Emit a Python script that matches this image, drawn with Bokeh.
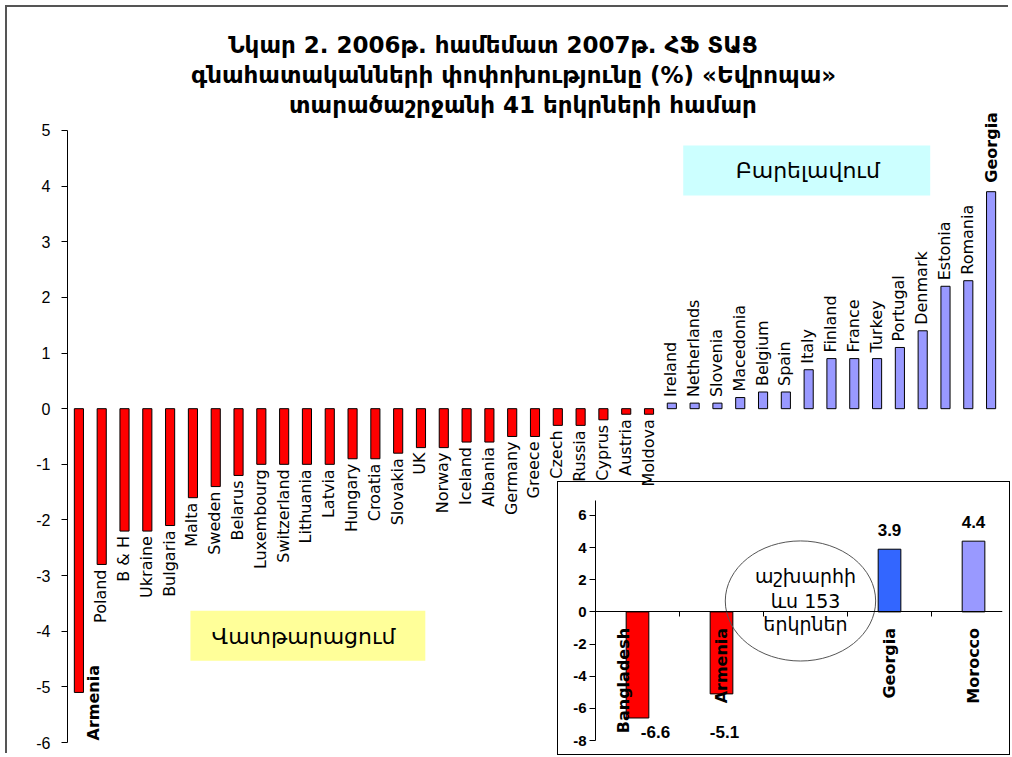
import math
from bokeh.plotting import figure
from bokeh.models import (FactorRange, Range1d, ColumnDataSource, LabelSet, Label,
                          BoxAnnotation, FixedTicker, LinearAxis)
from bokeh.layouts import column
from bokeh.embed import file_html
from bokeh.resources import INLINE
from bokeh.core.properties import value

# ---------------- data ----------------
title_lines = [
    "Նկար 2. 2006թ. համեմատ 2007թ. ՀՖ ՏԱՑ",
    "գնահատականների փոփոխությունը (%) «Եվրոպա»",
    "տարածաշրջանի 41 երկրների համար",
]
countries = ["Armenia", "Poland", "B & H", "Ukraine", "Bulgaria", "Malta", "Sweden",
             "Belarus", "Luxembourg", "Switzerland", "Lithuania", "Latvia", "Hungary",
             "Croatia", "Slovakia", "UK", "Norway", "Iceland", "Albania", "Germany",
             "Greece", "Czech", "Russia", "Cyprus", "Austria", "Moldova", "Ireland",
             "Netherlands", "Slovenia", "Macedonia", "Belgium", "Spain", "Italy",
             "Finland", "France", "Turkey", "Portugal", "Denmark", "Estonia",
             "Romania", "Georgia"]
changes = [-5.1, -2.8, -2.2, -2.2, -2.1, -1.6, -1.4, -1.2, -1.0, -1.0, -1.0, -1.0,
           -0.9, -0.9, -0.8, -0.7, -0.7, -0.6, -0.6, -0.5, -0.5, -0.3, -0.3, -0.2,
           -0.1, -0.1, 0.1, 0.1, 0.1, 0.2, 0.3, 0.3, 0.7, 0.9, 0.9, 0.9, 1.1, 1.4,
           2.2, 2.3, 3.9]
highlight = ["Armenia", "Georgia"]
y_ticks = [-6, -5, -4, -3, -2, -1, 0, 1, 2, 3, 4, 5]
worse_text = "Վատթարացում"
better_text = "Բարելավում"

inset_countries = ["Bangladesh", "Armenia", "Georgia", "Morocco"]
inset_values = [-6.6, -5.1, 3.9, 4.4]
inset_ticks = [-8, -6, -4, -2, 0, 2, 4, 6]
ellipse_lines = ["աշխարհի", "ևս 153", "երկրներ"]

# ---------------- styles ----------------
RED = "#FF0000"
BLUE = "#9999FF"
LBL_FONT = "DejaVu Sans"
NUM_FONT = "Liberation Sans"

# ---------------- main chart ----------------
# the plot area reaches up over the heading; the value axis itself stops at 5
p = figure(width=981, height=748, title=None,
           x_range=FactorRange(*countries, range_padding=0),
           y_range=Range1d(min(y_ticks), 6.977),
           x_axis_location=None, y_axis_location="left",
           min_border_left=38, min_border_right=8, min_border_bottom=13, min_border_top=13,
           output_backend="svg", toolbar_location=None,
           margin=(0, 0, 0, 22))
p.outline_line_color = None
p.grid.visible = False
p.background_fill_color = "white"
p.border_fill_color = "white"

# three-line heading
title_pos = [(18.66, 6.53), (19.56, 5.99), (19.97, 5.45)]
for txt, (tx, ty) in zip(title_lines, title_pos):
    p.add_layout(Label(x=tx, y=ty, text=txt, text_align="center", text_baseline="middle",
                       text_font=LBL_FONT, text_font_size="23px", text_font_style="bold",
                       text_color="black"))

ya = p.yaxis[0]
ya.ticker = FixedTicker(ticks=y_ticks)
ya.bounds = (min(y_ticks), max(y_ticks))
ya.major_label_overrides = {t: str(t) for t in y_ticks}
ya.major_label_text_font = NUM_FONT
ya.major_label_text_font_size = "16px"
ya.major_label_text_color = "black"
ya.major_label_standoff = 11
ya.major_tick_in = 0
ya.major_tick_out = 6
ya.minor_tick_line_color = None
ya.axis_line_color = "black"
ya.major_tick_line_color = "black"

colors = [RED if v < 0 else BLUE for v in changes]
src = ColumnDataSource(dict(country=countries, value=changes, color=colors))
p.vbar(x="country", top="value", bottom=0, width=0.4, fill_color="color",
       line_color="black", line_width=1, source=src)

ymin = p.y_range.start
lab_c, lab_y, lab_align, lab_yoff = [], [], [], []
for c, v in zip(countries, changes):
    if c in highlight:
        continue
    lab_c.append(c)
    if v < 0:
        lab_y.append(v); lab_align.append("right"); lab_yoff.append(-5)
    else:
        lab_y.append(v); lab_align.append("left"); lab_yoff.append(6)
lsrc = ColumnDataSource(dict(country=lab_c, y=lab_y, align=lab_align, yo=lab_yoff))
p.add_layout(LabelSet(x="country", y="y", text="country", source=lsrc,
                      angle=math.pi / 2, text_align="align", text_baseline="middle",
                      x_offset=-1, y_offset="yo",
                      text_font=value(LBL_FONT), text_font_size=value("16px"),
                      text_color="black"))

# highlighted countries: bold labels (Armenia beside its bar, Georgia above)
for c in highlight:
    i = countries.index(c)
    v = changes[i]
    xc = i + 0.5  # synthetic coordinate of the factor's centre
    if v < 0:
        lbl = Label(x=xc, y=ymin, text=c, angle=math.pi / 2, text_align="left",
                    text_baseline="middle", x_offset=15, y_offset=2)
    else:
        lbl = Label(x=xc, y=v, text=c, angle=math.pi / 2, text_align="left",
                    text_baseline="middle", x_offset=0, y_offset=9)
    lbl.text_font = LBL_FONT
    lbl.text_font_size = "16px"
    lbl.text_font_style = "bold"
    lbl.text_color = "black"
    p.add_layout(lbl)

# annotation boxes
p.add_layout(BoxAnnotation(left=27.0, right=37.83, top=4.73, bottom=3.83,
                           fill_color="#CCFFFF", fill_alpha=1, line_color=None,
                           level="underlay"))
p.add_layout(Label(x=32.46, y=4.28, text=better_text, text_align="center",
                   text_baseline="middle", text_font=LBL_FONT, text_font_size="22px",
                   text_color="black"))
p.add_layout(BoxAnnotation(left=5.39, right=15.69, top=-3.63, bottom=-4.53,
                           fill_color="#FFFF99", fill_alpha=1, line_color=None,
                           level="underlay"))
p.add_layout(Label(x=10.35, y=-4.1, text=worse_text, text_align="center",
                   text_baseline="middle", text_font=LBL_FONT, text_font_size="22px",
                   text_color="black"))

# ---------------- inset chart ----------------
n_slots = len(inset_countries) + 1
gap_after = 2
pos = [i + 0.5 + (1 if i >= gap_after else 0) for i in range(len(inset_countries))]
gap_center = gap_after + 0.5

ins = figure(width=453, height=274, title=None,
             x_range=Range1d(0, 4.845), y_range=Range1d(-8, 6.93),
             x_axis_location=None, y_axis_location="left",
             min_border_left=38, min_border_right=8, min_border_top=19, min_border_bottom=15,
             output_backend="svg", toolbar_location=None,
             margin=(-274, 0, 0, 550),
             styles={"outline": "1px solid black", "outline-offset": "-1px"})
ins.outline_line_color = None
ins.grid.visible = False
ins.background_fill_color = "white"
ins.border_fill_color = "white"
ins.border_fill_alpha = 0

iy = ins.yaxis[0]
iy.ticker = FixedTicker(ticks=inset_ticks)
iy.major_label_overrides = {t: str(t) for t in inset_ticks}
iy.major_label_text_font = NUM_FONT
iy.major_label_text_font_size = "15px"
iy.major_label_text_font_style = "bold"
iy.major_label_text_color = "black"
iy.major_label_standoff = 3
iy.major_tick_in = 0
iy.major_tick_out = 6
iy.minor_tick_line_color = None
iy.axis_line_color = "black"
iy.major_tick_line_color = "black"

bticks = list(range(1, n_slots))
xa = LinearAxis(fixed_location=0, ticker=FixedTicker(ticks=bticks),
                major_label_overrides={t: "" for t in bticks},
                major_label_text_font_size="1px", major_label_standoff=0,
                major_tick_in=0, major_tick_out=5, minor_tick_line_color=None,
                axis_line_color="black", major_tick_line_color="black")
ins.add_layout(xa, "below")

inset_colors = {"Bangladesh": RED, "Armenia": RED, "Georgia": "#3366FF", "Morocco": BLUE}
isrc = ColumnDataSource(dict(x=pos, value=inset_values, name=inset_countries,
                             color=[inset_colors[c] for c in inset_countries]))
ins.vbar(x="x", top="value", bottom=0, width=0.27, fill_color="color",
         line_color="black", line_width=1, source=isrc)

ins.ellipse(x=gap_center - 0.06, y=0.68, width=1.79, height=7.47,
            fill_color=None, line_color="#555555", line_width=1)
for txt, yy in zip(ellipse_lines, [2.24, 0.68, -0.75]):
    ins.add_layout(Label(x=gap_center, y=yy, text=txt, text_align="center",
                         text_baseline="middle", text_font=LBL_FONT,
                         text_font_size="19px", text_color="black"))

cat_xoff = {"Bangladesh": -14}
val_xoff = {"Bangladesh": 18, "Armenia": 3}
cl_src = ColumnDataSource(dict(x=pos, y=[0] * len(pos), name=inset_countries,
                               xo=[cat_xoff.get(c, 0) for c in inset_countries]))
ins.add_layout(LabelSet(x="x", y="y", text="name", source=cl_src, angle=math.pi / 2,
                        text_align="right", text_baseline="middle",
                        x_offset="xo", y_offset=-16, text_font=value(LBL_FONT),
                        text_font_size=value("16px"), text_font_style="bold",
                        text_color="black"))

vy, vb, vyo = [], [], []
for v in inset_values:
    if v >= 0:
        vy.append(v); vb.append("bottom"); vyo.append(13)
    else:
        vy.append(ins.y_range.start); vb.append("middle"); vyo.append(9)
vl_src = ColumnDataSource(dict(x=pos, y=vy, txt=[f"{v:.1f}" for v in inset_values],
                               base=vb, yo=vyo,
                               xo=[val_xoff.get(c, 0) for c in inset_countries]))
ins.add_layout(LabelSet(x="x", y="y", text="txt", source=vl_src, text_align="center",
                        text_baseline="base", x_offset="xo", y_offset="yo",
                        text_font=value(NUM_FONT), text_font_size=value("17px"),
                        text_font_style="bold", text_color="black"))

layout = column(p, ins, spacing=0, margin=(7, 0, 0, 7),
                styles={"box-shadow": "-2px -2px 0 0 #555555"})
open("out.html", "w").write(file_html(layout, INLINE))
